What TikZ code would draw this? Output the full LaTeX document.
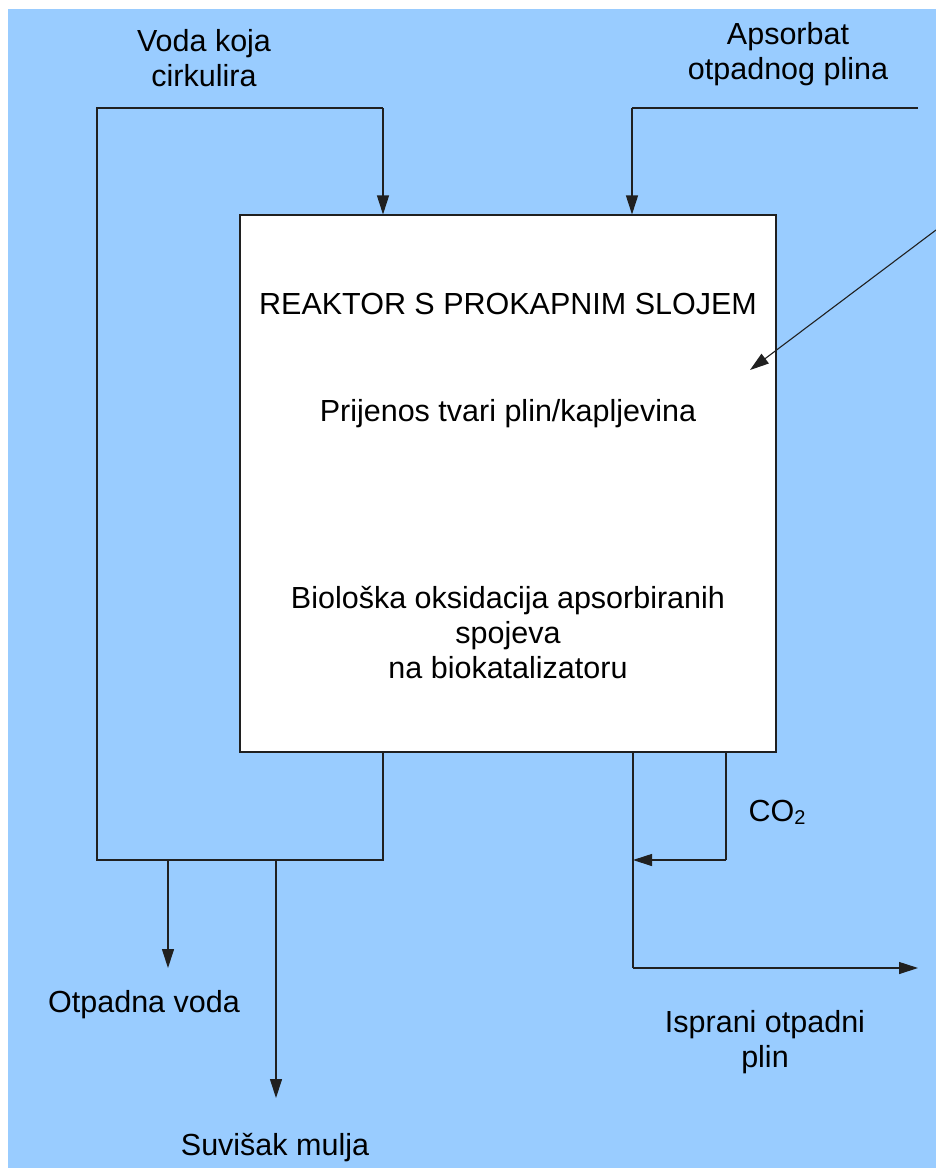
\documentclass[tikz,border=0pt]{standalone}
\usepackage{fontspec}
\setmainfont{Liberation Sans}
\usetikzlibrary{arrows.meta}
\definecolor{bg}{HTML}{99CCFF}
\definecolor{ln}{HTML}{202020}
\tikzset{
  flow/.style={draw=ln, line width=1.1pt},
  arr/.style={flow, -{Triangle[length=19pt,width=12pt]}},
  lbl/.style={align=center, inner sep=0pt, font=\fontsize{30.5}{35}\selectfont},
  reactor/.style={draw=ln, line width=1.1pt, fill=white, minimum width=536pt, minimum height=537pt, inner sep=0pt}
}
\begin{document}
\begin{tikzpicture}[x=1pt,y=-1pt]
\useasboundingbox (0,0) rectangle (936,1168);
\fill[bg] (8,9) rectangle (936,1168);
\node[reactor] (R) at (508,483.5) {};
\node[lbl] (t1) at (508,304) {REAKTOR S PROKAPNIM SLOJEM};
\node[lbl] (t2) at (508,414) {Prijenos tvari plin/kapljevina};
\node[lbl] (t3) at (508,633) {Biološka oksidacija apsorbiranih\\spojeva\\na biokatalizatoru};
\node[lbl] (lv) at (204,58) {Voda koja\\cirkulira};
\node[lbl] (la) at (788,54) {Apsorbat\\otpadnog plina};
\node[lbl] (co) at (777,812) {CO\raisebox{-0.1em}{\fontsize{20}{20}\selectfont 2}};
\node[lbl] (ov) at (144,1005) {Otpadna voda};
\node[lbl] (io) at (765,1042) {Isprani otpadni\\plin};
\node[lbl] (sm) at (275,1148) {Suvišak mulja};
% coordinates
\coordinate (lTR) at (383,108);
\coordinate (lTL) at (97,108);
\coordinate (lBL) at (97,860);
\coordinate (lBR) at (383,860);
\coordinate (aT) at (918,108);
\coordinate (aL) at (632,108);
\coordinate (dS) at (936,230);
\coordinate (dE) at (750,370);
\coordinate (wv) at (168,860);
\coordinate (wvE) at (168,968);
\coordinate (sl) at (276,860);
\coordinate (slE) at (276,1098);
\coordinate (cR) at (726,860);
\coordinate (cL) at (633,860);
\coordinate (gB) at (633,968);
\coordinate (gE) at (918,968);
% connectors
\draw[flow] (R.south -| lBR) -- (lBR) -- (lBL) -- (lTL) -- (lTR);
\draw[arr] (lTR) -- (R.north -| lTR);
\draw[flow] (aT) -- (aL);
\draw[arr] (aL) -- (R.north -| aL);
\draw[arr] (dS) -- (dE);
\draw[arr] (wv) -- (wvE);
\draw[arr] (sl) -- (slE);
\draw[flow] (R.south -| cR) -- (cR);
\draw[arr] (cR) -- (cL);
\draw[flow] (R.south -| cL) -- (gB);
\draw[arr] (gB) -- (gE);
\end{tikzpicture}
\end{document}
